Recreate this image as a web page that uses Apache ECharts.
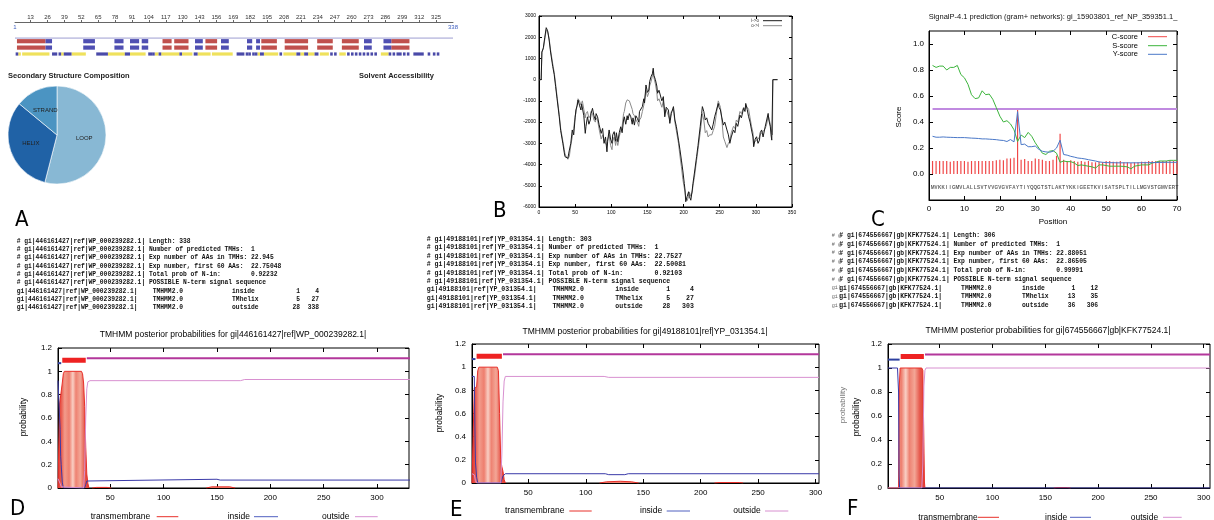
<!DOCTYPE html>
<html>
<head>
<meta charset="utf-8">
<script src="https://cdn.jsdelivr.net/npm/echarts@6/dist/echarts.min.js"></script>
<style>
html, body { margin: 0; padding: 0; background: #fff; }
#chart { width: 1214px; height: 520px; }
</style>
</head>
<body>
<div id="chart"></div>
<script>
// ---- A: sequence ruler, secondary structure tracks, composition pie ----
const seqLength = 338;
const rulerTicks = [13, 26, 39, 52, 65, 78, 91, 104, 117, 130, 143, 156, 169, 182, 195, 208, 221, 234, 247, 260, 273, 286, 299, 312, 325];
const helixSegs = [[3, 24], [115, 121], [124, 134], [148, 156], [191, 202], [209, 226], [234, 245], [253, 265], [291, 304]];
const strandSegs = [[25, 29], [54, 62], [78, 84], [90, 96], [99, 103], [140, 145], [160, 165], [180, 183], [187, 189], [270, 275], [285, 290]];
const exposedSegs = [[4, 5], [7, 27], [37, 38], [45, 55], [73, 85], [90, 101], [109, 111], [114, 127], [130, 137], [142, 151], [153, 168], [188, 189], [193, 203], [208, 217], [221, 223], [227, 231], [236, 242], [251, 255], [283, 288]];
const buriedSegs = [[2, 3], [30, 33], [35, 36], [39, 44], [64, 72], [86, 89], [104, 106], [107, 108], [112, 113], [128, 129], [139, 141], [172, 177], [179, 180], [181, 182], [184, 185], [186, 187], [190, 192], [205, 206], [218, 220], [224, 226], [232, 234], [244, 245], [247, 248], [257, 258], [260, 261], [263, 264], [266, 267], [269, 270], [272, 273], [275, 276], [278, 279], [289, 290], [292, 293], [295, 298], [300, 301], [303, 304], [308, 315], [319, 320], [323, 324], [326, 327]];
const ssNames = ["LOOP", "HELIX", "STRAND"];
const ssValues = [54, 32, 14];

// ---- B: hydrophobicity profile, [position, value] ----
const hydIO = [[0,0],[3,0],[4,1300],[6,1500],[8,2000],[10,2450],[12,2300],[14,1870],[16,1300],[19,620],[21,250],[23,-330],[25,-900],[28,-1750],[30,-2400],[33,-3000],[35,-3450],[36,-3630],[38,-3550],[40,-3700],[41,-3500],[42,-3320],[44,-3000],[46,-2370],[48,-2600],[50,-1800],[51,-1430],[53,-1200],[54,-960],[56,-1200],[58,-1430],[59,-1150],[60,-1190],[62,-1700],[64,-2530],[65,-2200],[67,-1750],[69,-2100],[71,-1900],[72,-1600],[74,-1350],[76,-1700],[78,-1900],[79,-1600],[81,-1750],[83,-2100],[86,-2530],[88,-2300],[90,-3000],[92,-2700],[94,-3400],[95,-2900],[97,-2370],[99,-2800],[101,-3000],[102,-2600],[104,-2450],[106,-2900],[107,-2500],[109,-2920],[111,-2500],[113,-2220],[115,-2500],[117,-1900],[118,-1750],[120,-2100],[122,-1700],[123,-1900],[125,-1600],[127,-1750],[129,-2100],[130,-1800],[132,-2140],[134,-1700],[136,-1820],[138,-2000],[139,-1500],[141,-1590],[143,-1270],[145,-900],[146,-1100],[148,-250],[150,-600],[152,-490],[153,-100],[155,140],[157,300],[158,540],[159,200],[161,0],[163,-300],[164,-640],[166,-500],[169,-880],[170,-1000],[172,-800],[174,-1750],[176,-1300],[179,-1430],[181,-2060],[183,-1600],[186,-1270],[188,-1900],[190,-2200],[193,-2850],[195,-3300],[197,-3790],[199,-4300],[201,-4890],[202,-5200],[203,-5750],[205,-5500],[207,-5280],[208,-5500],[210,-5680],[212,-5200],[213,-4890],[215,-4400],[218,-3630],[220,-3100],[223,-2220],[225,-1600],[226,-1270],[228,-1500],[230,-1900],[232,-1800],[234,-2060],[236,-2000],[239,-2370],[241,-2100],[243,-1750],[245,-1500],[248,-1120],[249,-1300],[251,-1430],[253,-1800],[255,-2140],[257,-2000],[260,-2370],[262,-2600],[264,-3000],[266,-2700],[269,-2370],[271,-2500],[273,-2060],[275,-2200],[278,-1670],[280,-1800],[283,-1350],[285,-1500],[286,-1120],[288,-1400],[290,-1750],[292,-2000],[294,-2370],[296,-2700],[297,-3160],[299,-2800],[301,-2690],[303,-3000],[305,-2850],[306,-2500],[308,-2370],[310,-2700],[311,-2610],[313,-2200],[315,-1900],[317,-1590],[318,-1900],[320,-2220],[321,-2600],[322,-2850],[323,-2850],[323.5,0],[330,0]];
const hydOI = [[0,0],[3,0],[4,1300],[6,1450],[8,1900],[10,2350],[12,2250],[14,1950],[16,1400],[19,750],[21,350],[23,-200],[25,-800],[28,-1650],[30,-2300],[33,-2900],[35,-3300],[36,-3500],[38,-3650],[40,-3750],[41,-3700],[42,-3600],[44,-3100],[46,-2700],[48,-2300],[50,-1700],[51,-1600],[53,-1100],[54,-900],[56,-1000],[58,-1200],[59,-1100],[60,-1000],[62,-1400],[64,-1800],[65,-1600],[67,-1500],[69,-1800],[71,-1700],[72,-1500],[74,-1600],[76,-1900],[78,-2000],[79,-1800],[81,-1900],[83,-2300],[86,-2800],[88,-2600],[90,-2900],[92,-3000],[94,-3100],[95,-2800],[97,-2600],[99,-3100],[101,-3300],[102,-2900],[104,-2700],[106,-3100],[107,-2800],[109,-3100],[111,-2700],[113,-2400],[115,-2200],[117,-1600],[118,-1500],[120,-1100],[122,-950],[123,-950],[125,-1000],[127,-1000],[129,-1400],[130,-1600],[132,-1700],[134,-1900],[136,-2000],[138,-2200],[139,-1900],[141,-1800],[143,-1500],[145,-1200],[146,-1000],[148,-500],[150,-800],[152,-600],[153,-300],[155,-100],[157,200],[158,400],[159,100],[161,-200],[163,-600],[164,-1000],[166,-900],[169,-1200],[170,-1300],[172,-1000],[174,-1500],[176,-1400],[179,-1700],[181,-1900],[183,-1500],[186,-1400],[188,-2000],[190,-2400],[193,-3000],[195,-3600],[197,-4100],[199,-4700],[201,-5100],[202,-5300],[203,-5550],[205,-5700],[207,-5500],[208,-5300],[210,-5500],[212,-5300],[213,-5000],[215,-4600],[218,-3800],[220,-3300],[223,-2500],[225,-1900],[226,-1600],[228,-1900],[230,-2500],[232,-2400],[234,-2700],[236,-2600],[239,-2600],[241,-2400],[243,-2200],[245,-1700],[248,-1000],[249,-1100],[251,-1300],[253,-1900],[255,-2700],[257,-2900],[260,-3200],[262,-3000],[264,-2900],[266,-2500],[269,-2200],[271,-2300],[273,-1900],[275,-2000],[278,-1500],[280,-1600],[283,-1300],[285,-1400],[286,-1200],[288,-1300],[290,-1400],[292,-1800],[294,-2200],[296,-2500],[297,-3000],[299,-2900],[301,-2900],[303,-2800],[305,-2700],[306,-2600],[308,-2500],[310,-2500],[311,-2400],[313,-2300],[315,-2100],[317,-1700],[318,-1800],[320,-2100],[321,-2300],[322,-2500],[323,-2600],[323.5,0],[330,0]];

// ---- C: SignalP scores ----
const cSeq = "MVKKIIGMVLALLSVTVVGVGVFAYTIYQQGTSTLAKTYKKIGEETKVISATSPLTILLMGVSTGMVERT";
const cScore = [0.10, 0.10, 0.10, 0.10, 0.10, 0.095, 0.10, 0.10, 0.10, 0.10, 0.095, 0.10, 0.10, 0.10, 0.10, 0.10, 0.10, 0.10, 0.105, 0.11, 0.105, 0.12, 0.12, 0.125, 0.50, 0.11, 0.115, 0.10, 0.10, 0.12, 0.115, 0.11, 0.10, 0.10, 0.11, 0.14, 0.31, 0.11, 0.10, 0.105, 0.10, 0.095, 0.10, 0.095, 0.10, 0.09, 0.09, 0.095, 0.09, 0.10, 0.10, 0.095, 0.095, 0.10, 0.09, 0.09, 0.085, 0.09, 0.09, 0.095, 0.095, 0.10, 0.10, 0.10, 0.10, 0.10, 0.10, 0.10, 0.10, 0.10];
const sScore = [0.835, 0.82, 0.83, 0.83, 0.80, 0.82, 0.82, 0.835, 0.765, 0.74, 0.69, 0.61, 0.58, 0.585, 0.64, 0.61, 0.615, 0.575, 0.51, 0.445, 0.40, 0.41, 0.385, 0.34, 0.25, 0.30, 0.28, 0.32, 0.29, 0.24, 0.20, 0.16, 0.15, 0.175, 0.18, 0.16, 0.09, 0.10, 0.095, 0.095, 0.085, 0.065, 0.07, 0.065, 0.06, 0.055, 0.045, 0.07, 0.07, 0.065, 0.06, 0.06, 0.06, 0.06, 0.058, 0.055, 0.04, 0.06, 0.065, 0.07, 0.07, 0.07, 0.085, 0.09, 0.10, 0.10, 0.10, 0.105, 0.105, 0.105];
const yScore = [0.29, 0.283, 0.283, 0.285, 0.283, 0.282, 0.281, 0.28, 0.28, 0.28, 0.278, 0.276, 0.275, 0.273, 0.27, 0.27, 0.268, 0.266, 0.264, 0.26, 0.258, 0.25, 0.265, 0.247, 0.48, 0.226, 0.23, 0.21, 0.21, 0.215, 0.19, 0.175, 0.17, 0.167, 0.175, 0.2, 0.26, 0.15, 0.145, 0.136, 0.13, 0.123, 0.12, 0.116, 0.11, 0.105, 0.1, 0.093, 0.09, 0.088, 0.087, 0.087, 0.086, 0.086, 0.086, 0.086, 0.086, 0.086, 0.086, 0.087, 0.087, 0.087, 0.088, 0.088, 0.089, 0.089, 0.09, 0.09, 0.09, 0.09];
const cutoff = 0.5;

// ---- D/E/F: TMHMM posterior probabilities ----
const idD = "gi|446161427|ref|WP_000239282.1|";
const headD = ["Length: 338", "Number of predicted TMHs:  1", "Exp number of AAs in TMHs: 22.945", "Exp number, first 60 AAs:  22.75048", "Total prob of N-in:        0.92232", "POSSIBLE N-term signal sequence"];
const topoD = [["inside", 1, 4], ["TMhelix", 5, 27], ["outside", 28, 338]];
const tmHumpD = [[1, 0], [2, 0], [2.5, 0.72], [4, 0.73], [5, 0.9], [6, 0.98], [7, 1], [23, 1], [24, 0.98], [25, 0.9], [26, 0.7], [27, 0.35], [28, 0.12], [29, 0.04], [30, 0]];
const tmBumpsD = [[[33, 0], [37, 0.005], [47, 0.005], [51, 0]], [[140, 0], [145, 0.01], [162, 0.01], [167, 0]]];
const insideD = [[1, 0.92], [2, 0.92], [3, 0.5], [3.5, 0.27], [4, 0.2], [5, 0.05], [6, 0], [26, 0], [27, 0.03], [28, 0.06], [29, 0.075], [150, 0.075], [153, 0.068], [338, 0.068]];
const outsideD = [[1, 0.08], [2, 0.07], [3, 0.04], [4, 0.01], [5, 0], [25, 0], [26, 0.15], [27, 0.6], [28, 0.85], [29, 0.91], [31, 0.92], [172, 0.92], [176, 0.93], [338, 0.93]];

const idE = "gi|49188101|ref|YP_031354.1|";
const headE = ["Length: 303", "Number of predicted TMHs:  1", "Exp number of AAs in TMHs: 22.7527", "Exp number, first 60 AAs:  22.50081", "Total prob of N-in:        0.92103", "POSSIBLE N-term signal sequence"];
const topoE = [["inside", 1, 4], ["TMhelix", 5, 27], ["outside", 28, 303]];
const tmHumpE = [[1, 0], [2.5, 0], [3, 0.82], [5, 0.83], [6, 0.97], [7, 1], [23, 1], [24, 0.97], [25, 0.6], [26, 0.2], [27, 0.14], [28, 0.1], [29, 0.03], [30, 0]];
const tmBumpsE = [[[112, 0], [118, 0.01], [130, 0.015], [140, 0.01], [146, 0]], [[212, 0], [216, 0.004], [234, 0.004], [237, 0]]];
const insideE = [[1, 0.92], [3, 0.92], [3.5, 0.5], [4, 0.18], [5, 0.05], [6, 0], [26, 0], [27, 0.03], [28, 0.06], [29, 0.075], [30, 0.08], [117, 0.08], [120, 0.072], [134, 0.072], [137, 0.08], [303, 0.08]];
const outsideE = [[1, 0.08], [3, 0.07], [4, 0.02], [5, 0], [26, 0], [27, 0.25], [28, 0.7], [29, 0.88], [30, 0.92], [116, 0.92], [120, 0.912], [303, 0.912]];

const idF = "gi|674556667|gb|KFK77524.1|";
const headF = ["Length: 306", "Number of predicted TMHs:  1", "Exp number of AAs in TMHs: 22.88051", "Exp number, first 60 AAs:  22.86505", "Total prob of N-in:        0.99991", "POSSIBLE N-term signal sequence"];
const topoF = [["inside", 1, 12], ["TMhelix", 13, 35], ["outside", 36, 306]];
const tmHumpF = [[1, 0], [11, 0], [11.7, 0.85], [12.5, 1], [33, 1], [34, 0.98], [34.8, 0.5], [35.5, 0.05], [36, 0]];
const tmBumpsF = [[[158, 0], [161, 0.004], [171, 0.004], [174, 0]]];
const insideF = [[1, 1], [10, 1], [11, 0.8], [11.5, 0.1], [12, 0], [306, 0]];
const outsideF = [[1, 0], [33, 0], [34, 0.2], [35, 0.85], [36, 0.98], [37, 1], [306, 1]];

const tmTicks = [50, 100, 150, 200, 250, 300];
const probTicks = [0, 0.2, 0.4, 0.6, 0.8, 1, 1.2];

// ------------------------------------------------------------------
const FONT = "'Liberation Sans', Arial, sans-serif";
const MONO = "'Liberation Mono', 'DejaVu Sans Mono', monospace";
const BIG = "'Liberation Sans Narrow', 'DejaVu Sans Condensed', 'DejaVu Sans', sans-serif";

const chart = echarts.init(document.getElementById("chart"));
const xAxes = [];
const yAxes = [];
const series = [];
const els = [];

function plotGrid(left, top, width, height) {
  return { left, top, width, height, show: true, borderColor: "#000", borderWidth: 1, backgroundColor: "transparent", containLabel: false, outerBoundsMode: "none" };
}
const grids = [
  { left: 15, top: 22, width: 438, height: 1, containLabel: false, outerBoundsMode: "none" },
  { left: 15, top: 38, width: 438, height: 16, containLabel: false, outerBoundsMode: "none" },
  plotGrid(539, 16, 253, 191),
  plotGrid(929, 31, 248, 169),
  plotGrid(58, 348, 351, 140),
  plotGrid(472, 344, 347, 139),
  plotGrid(888, 344, 322, 144),
];

function axis(gi, pos, r, fs, main) {
  const a = {
    type: "value", gridIndex: gi, position: pos, min: r.min, max: r.max,
    axisLine: { show: main, onZero: false, lineStyle: { color: "#000", width: 1 } },
    axisTick: { show: true, inside: true, length: r.tick || 4, lineStyle: { color: "#000", width: 1 } },
    axisLabel: { show: main, fontSize: fs, fontFamily: FONT, color: "#000", margin: r.margin || 4, formatter: r.fmt || ((v) => String(v)) },
    splitLine: { show: false },
  };
  if (r.ticks) {
    a.axisTick.customValues = r.ticks;
    a.axisLabel.customValues = r.ticks;
  } else {
    a.interval = r.interval;
  }
  return a;
}
// gnuplot style box: labelled bottom/left, mirrored ticks top/right
function boxAxes(gi, xr, yr, fs) {
  xAxes.push(axis(gi, "bottom", xr, fs, true));
  const xi = xAxes.length - 1;
  xAxes.push(axis(gi, "top", xr, fs, false));
  yAxes.push(axis(gi, "left", yr, fs, true));
  const yi = yAxes.length - 1;
  yAxes.push(axis(gi, "right", yr, fs, false));
  return [xi, yi];
}

function txt(x, y, text, o) {
  o = o || {};
  const align = o.align || "left";
  const va = o.va || "middle";
  return {
    type: "text", x, y, rotation: o.rot || 0, z: 100, silent: true,
    style: {
      text, fill: o.color || "#000",
      font: (o.weight || "normal") + " " + (o.size || 8) + "px " + (o.family || FONT),
      align, verticalAlign: va, textAlign: align, textVerticalAlign: va,
    },
  };
}
function seg(x1, x2, y, color, w) {
  return { type: "line", z: 100, silent: true, shape: { x1, y1: y, x2, y2: y }, style: { stroke: color, lineWidth: w || 1 } };
}

// ---------------- A ----------------
xAxes.push({
  type: "value", gridIndex: 0, position: "top", min: 1, max: seqLength,
  axisLine: { show: true, onZero: false, lineStyle: { color: "#666", width: 1 } },
  axisTick: { show: true, length: 2, customValues: rulerTicks, lineStyle: { color: "#666" } },
  axisLabel: { fontSize: 6, fontFamily: FONT, color: "#333", margin: 2, customValues: rulerTicks },
  splitLine: { show: false },
});
xAxes.push({
  type: "value", gridIndex: 0, position: "bottom", min: 1, max: seqLength,
  axisLine: { show: false }, axisTick: { show: false },
  axisLabel: { fontSize: 6, fontFamily: FONT, color: "#4060c0", margin: 1, customValues: [1, seqLength] },
  splitLine: { show: false },
});
yAxes.push({ type: "value", gridIndex: 0, show: false, min: 0, max: 1 });
xAxes.push({ type: "value", gridIndex: 1, show: false, min: 1, max: seqLength });
yAxes.push({ type: "value", gridIndex: 1, show: false, min: 0, max: 5, inverse: true });

function trackSeries(segs, rows, color, h) {
  const data = [];
  rows.forEach((row) => segs.forEach((s) => data.push([s[0], s[1], row])));
  return {
    type: "custom", xAxisIndex: 2, yAxisIndex: 1, data, silent: true,
    renderItem: function (params, api) {
      const a = api.coord([api.value(0) - 0.5, api.value(2)]);
      const b = api.coord([api.value(1) + 0.5, api.value(2)]);
      return { type: "rect", shape: { x: a[0], y: a[1] - h / 2, width: b[0] - a[0], height: h }, style: { fill: color } };
    },
  };
}
series.push({
  type: "line", xAxisIndex: 2, yAxisIndex: 1, data: [[1, 0], [seqLength, 0]], symbol: "none", silent: true,
  lineStyle: { color: "#b4b4dc", width: 1.5 },
});
series.push(trackSeries(helixSegs, [1, 3], "#c0504d", 4.2));
series.push(trackSeries(strandSegs, [1, 3], "#4f4fb2", 4.2));
series.push(trackSeries(exposedSegs, [5], "#efe15c", 3.2));
series.push(trackSeries(buriedSegs, [5], "#4a4aa8", 3.2));

series.push({
  type: "pie", center: [57, 135], radius: 49, startAngle: 90, clockwise: true, silent: true,
  data: ssNames.map((n, i) => ({ name: n, value: ssValues[i] })),
  color: ["#88b8d4", "#2062a6", "#4b94c2"],
  itemStyle: { borderColor: "#fff", borderWidth: 0.6 },
  label: { show: true, position: "inside", fontSize: 6, fontFamily: FONT, color: "#222" },
  labelLine: { show: false },
});
els.push(txt(8, 76, "Secondary Structure Composition", { weight: "bold", size: 7.5, color: "#222" }));
els.push(txt(359, 76, "Solvent Accessibility", { weight: "bold", size: 7.5, color: "#222" }));

// ---------------- B ----------------
const [bx, by] = boxAxes(2, { min: 0, max: 350, interval: 50, tick: 3, margin: 3 }, { min: -6000, max: 3000, interval: 1000, tick: 3, margin: 3 }, 5);
series.push({
  name: "o->i", type: "line", xAxisIndex: bx, yAxisIndex: by, symbol: "none", silent: true,
  data: hydOI, lineStyle: { color: "#8a8a8a", width: 1 },
});
series.push({
  name: "i->o", type: "line", xAxisIndex: bx, yAxisIndex: by, symbol: "none", silent: true,
  data: hydIO, lineStyle: { color: "#1a1a1a", width: 1 },
});
els.push(txt(759, 20.7, "i->o", { size: 4.5, align: "right", color: "#333" }));
els.push(seg(763, 782, 20.7, "#1a1a1a", 1));
els.push(txt(759, 25.7, "o->i", { size: 4.5, align: "right", color: "#333" }));
els.push(seg(763, 782, 25.7, "#8a8a8a", 1));

// ---------------- C ----------------
const [cx, cy] = boxAxes(
  3,
  { min: 0, max: 70, interval: 10, tick: 4, margin: 5 },
  { min: -0.2, max: 1.1, ticks: [0, 0.2, 0.4, 0.6, 0.8, 1.0], fmt: (v) => v.toFixed(1), tick: 4, margin: 5 },
  8
);
series.push({
  name: "cutoff", type: "line", xAxisIndex: cx, yAxisIndex: cy, symbol: "none", silent: true,
  data: [[1, cutoff], [70, cutoff]], lineStyle: { color: "#c08ae0", width: 2 },
});
series.push({
  name: "C-score", type: "bar", xAxisIndex: cx, yAxisIndex: cy, barWidth: 1.2, silent: true,
  data: cScore.map((v, i) => [i + 1, v]), itemStyle: { color: "#f04848" },
});
series.push({
  name: "S-score", type: "line", xAxisIndex: cx, yAxisIndex: cy, symbol: "none", silent: true,
  data: sScore.map((v, i) => [i + 1, v]), lineStyle: { color: "#3cb43c", width: 1 },
});
series.push({
  name: "Y-score", type: "line", xAxisIndex: cx, yAxisIndex: cy, symbol: "none", silent: true,
  data: yScore.map((v, i) => [i + 1, v]), lineStyle: { color: "#4a78c8", width: 1 }, z: 3,
});
series.push({
  type: "scatter", xAxisIndex: cx, yAxisIndex: cy, symbolSize: 1, silent: true,
  itemStyle: { color: "rgba(0,0,0,0)" },
  data: cSeq.split("").map((ch, i) => [i + 1, -0.105, ch]),
  label: { show: true, position: "inside", formatter: (p) => p.value[2], fontSize: 4.6, fontWeight: "bold", fontFamily: FONT, color: "#333" },
  labelLayout: { hideOverlap: false },
});
els.push(txt(1053, 17, "SignalP-4.1 prediction (gram+ networks): gi_15903801_ref_NP_359351.1_", { size: 7.5, align: "center", color: "#111" }));
els.push(txt(899, 117, "Score", { size: 8, align: "center", rot: Math.PI / 2 }));
els.push(txt(1053, 222, "Position", { size: 8, align: "center" }));
[["C-score", 36.7, "#f04848"], ["S-score", 45.7, "#3cb43c"], ["Y-score", 54.3, "#4a78c8"]].forEach((l) => {
  els.push(txt(1138, l[1], l[0], { size: 7.5, align: "right" }));
  els.push(seg(1148, 1167, l[1], l[2], 1));
});

// ---------------- D/E/F ----------------
const stripeStops = [
  { offset: 0, color: "#e23a30" }, { offset: 0.1, color: "#e8584c" }, { offset: 0.22, color: "#f29c8c" },
  { offset: 0.36, color: "#ee7e6e" }, { offset: 0.48, color: "#f9cfc4" }, { offset: 0.58, color: "#ee8272" },
  { offset: 0.72, color: "#f3a696" }, { offset: 0.86, color: "#e6594d" }, { offset: 1, color: "#e03a30" },
];
const topoStyle = {
  inside: { y: 1.07, color: "#2d40a0", w: 2 },
  TMhelix: { y: 1.095, color: "#ee2222", w: 5 },
  outside: { y: 1.112, color: "#b3379b", w: 2 },
};
function tmhmmPanel(gi, xMax, hump, bumps, inside, outside, topo) {
  const [xi, yi] = boxAxes(gi, { min: 1, max: xMax, ticks: tmTicks, tick: 4, margin: 6 }, { min: 0, max: 1.2, ticks: probTicks, tick: 4, margin: 6 }, 8);
  series.push({
    name: "transmembrane", type: "line", xAxisIndex: xi, yAxisIndex: yi, symbol: "none", silent: true, z: 2,
    data: hump, lineStyle: { color: "#e8302a", width: 1 },
    areaStyle: { color: new echarts.graphic.LinearGradient(0, 0, 1, 0, stripeStops), opacity: 1 },
  });
  bumps.forEach((b) => series.push({
    name: "transmembrane", type: "line", xAxisIndex: xi, yAxisIndex: yi, symbol: "none", silent: true, z: 2,
    data: b, lineStyle: { color: "#e8302a", width: 1 }, areaStyle: { color: "#f08070", opacity: 1 },
  }));
  series.push({
    name: "inside", type: "line", xAxisIndex: xi, yAxisIndex: yi, symbol: "none", silent: true, z: 3,
    data: inside, lineStyle: { color: "#3a3aa8", width: 1 },
  });
  series.push({
    name: "outside", type: "line", xAxisIndex: xi, yAxisIndex: yi, symbol: "none", silent: true, z: 3,
    data: outside, lineStyle: { color: "#d890d0", width: 1 },
  });
  topo.forEach((t) => {
    const s = topoStyle[t[0]];
    series.push({
      type: "line", xAxisIndex: xi, yAxisIndex: yi, symbol: "none", silent: true, z: 4,
      data: [[t[1], s.y], [t[2], s.y]], lineStyle: { color: s.color, width: s.w, cap: "butt" },
    });
  });
}
tmhmmPanel(4, 330, tmHumpD, tmBumpsD, insideD, outsideD, topoD);
tmhmmPanel(5, 303, tmHumpE, tmBumpsE, insideE, outsideE, topoE);
tmhmmPanel(6, 306, tmHumpF, tmBumpsF, insideF, outsideF, topoF);

function tmLegend(y, pos) {
  els.push(txt(pos[0], y, "transmembrane", { size: 8.5 }));
  els.push(seg(pos[1], pos[2], y, "#e8302a", 1));
  els.push(txt(pos[3], y, "inside", { size: 8.5 }));
  els.push(seg(pos[4], pos[5], y, "#5060c0", 1));
  els.push(txt(pos[6], y, "outside", { size: 8.5 }));
  els.push(seg(pos[7], pos[8], y, "#d890d0", 1));
}
tmLegend(516.7, [90.7, 156.7, 178.3, 227.7, 254, 278, 322, 355, 377.7]);
tmLegend(511, [505, 569.3, 591.7, 640, 666.7, 690, 733.3, 765, 788.3]);
tmLegend(517.3, [918.3, 978, 999, 1045, 1070, 1091, 1130.7, 1163, 1181.7]);

els.push(txt(233, 335, "TMHMM posterior probabilities for " + idD, { size: 8.5, align: "center" }));
els.push(txt(645, 331.7, "TMHMM posterior probabilities for " + idE, { size: 8.5, align: "center" }));
els.push(txt(1048, 331, "TMHMM posterior probabilities for " + idF, { size: 8.5, align: "center" }));
els.push(txt(24, 417, "probability", { size: 8.5, align: "center", rot: Math.PI / 2 }));
els.push(txt(440, 413, "probability", { size: 8.5, align: "center", rot: Math.PI / 2 }));
els.push(txt(843, 405, "probability", { size: 8, align: "center", rot: Math.PI / 2, color: "#777" }));
els.push(txt(857, 417, "probability", { size: 8.5, align: "center", rot: Math.PI / 2 }));

// ---------------- text blocks ----------------
function blockLines(id, head, topo, cols) {
  const top = head.map((h) => "# " + id + " " + h);
  const rows = topo.map((t) => id.padEnd(cols[0]) + "TMHMM2.0".padEnd(cols[1]) + t[0].padEnd(cols[2]) + String(t[1]).padStart(cols[3]) + String(t[2]).padStart(cols[4]));
  return top.concat(rows);
}
function block(x, y0, step, lines, size) {
  lines.forEach((l, i) => els.push(txt(x, y0 + i * step, l, { size, family: MONO, color: "#111", weight: "bold" })));
}
block(16.7, 241, 8.33, blockLines(idD, headD, topoD, [36, 21, 12, 6, 5]), 6.3);
block(426.7, 239.3, 8.42, blockLines(idE, headE, topoE, [32, 16, 8, 6, 6]), 6.55);
block(839.3, 235.7, 8.7, blockLines(idF, headF, topoF, [32, 16, 8, 6, 6]), 6.35);
for (let i = 0; i < 9; i++) {
  els.push(txt(831.7, 235.7 + i * 8.7, i < 6 ? "# g" : "gi|", { size: 5.2, family: MONO, color: "#666" }));
}

// ---------------- panel letters ----------------
[["A", 15, 220], ["B", 493, 211], ["C", 871, 220], ["D", 10, 509], ["E", 450, 510.5], ["F", 847, 509]].forEach((l) => {
  els.push(txt(l[1], l[2], l[0], { size: 22, family: BIG }));
});

chart.setOption({
  animation: false,
  backgroundColor: "#fff",
  grid: grids,
  xAxis: xAxes,
  yAxis: yAxes,
  series: series,
  graphic: { elements: els },
});
</script>
</body>
</html>
